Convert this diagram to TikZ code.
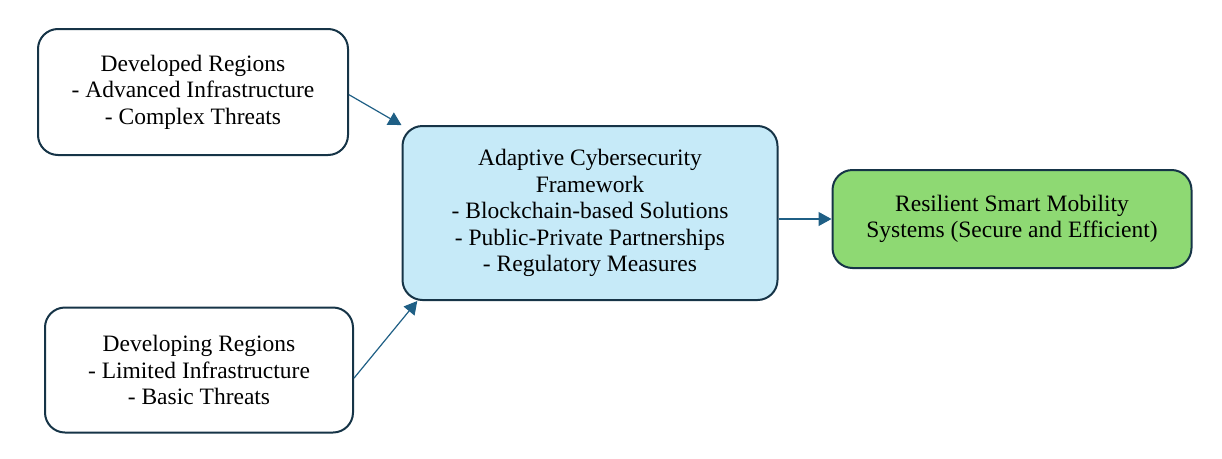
\documentclass[tikz,border=0pt]{standalone}
\usepackage{fontspec}
\setmainfont{Liberation Serif}
\usetikzlibrary{arrows.meta,positioning}
\definecolor{edgeblue}{HTML}{163447}
\definecolor{arrowblue}{HTML}{1F5F85}
\definecolor{paleblue}{HTML}{C6EAF8}
\definecolor{palegreen}{HTML}{8ED973}
\begin{document}
\begin{tikzpicture}[x=1pt,y=-1pt,
    box/.style={draw=edgeblue, line width=2pt, rounded corners=20pt, align=center,
                font=\fontsize{23.5}{26.5}\selectfont, inner sep=0pt},
    flow/.style={->, >={Triangle[length=13pt,width=14pt]}, draw=arrowblue, line width=1.2pt}]
    \useasboundingbox (0,0) rectangle (1222,458);
    % region boxes
    \node[box, minimum width=310pt, minimum height=126pt] (devd) at (193,92)
        {Developed Regions\\- Advanced Infrastructure\\- Complex Threats};
    \node[box, minimum width=308pt, minimum height=125pt] (devg) at (199,370)
        {Developing Regions\\- Limited Infrastructure\\- Basic Threats};
    % framework and outcome
    \node[box, fill=paleblue, minimum width=375pt, minimum height=174pt] (frame) at (590,213)
        {Adaptive Cybersecurity\\Framework\\- Blockchain-based Solutions\\- Public-Private Partnerships\\- Regulatory Measures};
    \node[box, fill=palegreen, minimum width=359pt, minimum height=98pt] (out) at (1012,219)
        {Resilient Smart Mobility\\Systems (Secure and Efficient)};
    % arrows
    \draw[flow] (devd.-1) -- (frame.155);
    \draw[flow] (devg.-3) -- (frame.207);
    \draw[flow] (frame.east |- out.west) -- (out.west);
\end{tikzpicture}
\end{document}
